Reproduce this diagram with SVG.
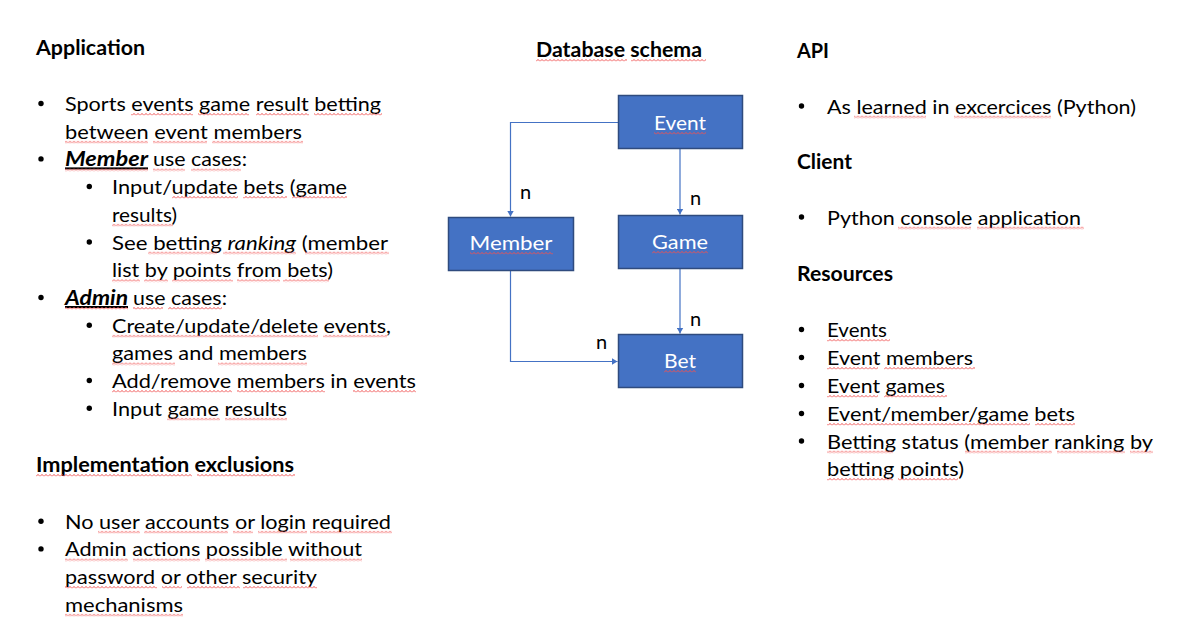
<svg xmlns="http://www.w3.org/2000/svg" width="1183" height="637" viewBox="0 0 1183 637">
<style>
text{font-family:Lato,"Liberation Sans",sans-serif;font-size:20px;fill:#000}
.h{font-weight:bold}
.bi{font-weight:bold;font-style:italic;text-decoration:underline}
.it{font-style:italic}
.lbl{fill:#fff;text-anchor:middle}
.box{fill:#4472C4;stroke:#2F4B7E;stroke-width:1.5}
.edge{fill:none;stroke:#4472C4;stroke-width:1.2}
.sq{fill:url(#sq)}
.dot{fill:#000}
</style>
<defs>
<pattern id="sq" width="4" height="3" patternUnits="userSpaceOnUse">
<path d="M0,2.4 L1,1.2 L2,0.6 L3,1.2 L4,2.4" fill="none" stroke="#F05050" stroke-width="0.85"/>
</pattern>
<marker id="arr" markerUnits="userSpaceOnUse" viewBox="0 0 6 7" refX="6" refY="3.5" markerWidth="6" markerHeight="7" orient="auto">
<path d="M0,0 L6,3.5 L0,7 z" fill="#4472C4"/>
</marker>
</defs>
<rect width="1183" height="637" fill="#fff"/>

<g id="text-left">
<text class="h" x="36" y="55" textLength="109" lengthAdjust="spacingAndGlyphs">Application</text>
<circle class="dot" cx="41" cy="103.5" r="2.7"/>
<text x="65" y="111" textLength="316" lengthAdjust="spacingAndGlyphs">Sports events game result betting</text>
<text x="65" y="138.7" textLength="237" lengthAdjust="spacingAndGlyphs">between event members</text>
<circle class="dot" cx="41" cy="158.9" r="2.7"/>
<text class="bi" x="65" y="166.4" textLength="83" lengthAdjust="spacingAndGlyphs">Member</text>
<text x="153" y="166.4" textLength="94" lengthAdjust="spacingAndGlyphs">use cases:</text>
<circle class="dot" cx="89.3" cy="186.5" r="2.7"/>
<text x="112" y="194" textLength="235" lengthAdjust="spacingAndGlyphs">Input/update bets (game</text>
<text x="112" y="221.7" textLength="65" lengthAdjust="spacingAndGlyphs">results)</text>
<circle class="dot" cx="89.3" cy="242" r="2.7"/>
<text x="112" y="249.5" textLength="276" lengthAdjust="spacingAndGlyphs">See betting <tspan class="it">ranking</tspan> (member</text>
<text x="112" y="277.2" textLength="221" lengthAdjust="spacingAndGlyphs">list by points from bets)</text>
<circle class="dot" cx="41" cy="297.5" r="2.7"/>
<text class="bi" x="65" y="305" textLength="63" lengthAdjust="spacingAndGlyphs">Admin</text>
<text x="133" y="305" textLength="94" lengthAdjust="spacingAndGlyphs">use cases:</text>
<circle class="dot" cx="89.3" cy="325.2" r="2.7"/>
<text x="112" y="332.7" textLength="279" lengthAdjust="spacingAndGlyphs">Create/update/delete events,</text>
<text x="112" y="360.4" textLength="195" lengthAdjust="spacingAndGlyphs">games and members</text>
<circle class="dot" cx="89.3" cy="380.5" r="2.7"/>
<text x="112" y="388" textLength="304" lengthAdjust="spacingAndGlyphs">Add/remove members in events</text>
<circle class="dot" cx="89.3" cy="408.2" r="2.7"/>
<text x="112" y="415.7" textLength="175" lengthAdjust="spacingAndGlyphs">Input game results</text>

<text class="h" x="36" y="472" textLength="258" lengthAdjust="spacingAndGlyphs">Implementation exclusions</text>
<circle class="dot" cx="41" cy="521.2" r="2.7"/>
<text x="65" y="528.7" textLength="326" lengthAdjust="spacingAndGlyphs">No user accounts or login required</text>
<circle class="dot" cx="41" cy="548.9" r="2.7"/>
<text x="65" y="556.4" textLength="297" lengthAdjust="spacingAndGlyphs">Admin actions possible without</text>
<text x="65" y="584" textLength="252" lengthAdjust="spacingAndGlyphs">password or other security</text>
<text x="65" y="611.7" textLength="118" lengthAdjust="spacingAndGlyphs">mechanisms</text>
</g>

<g id="text-right">
<text class="h" x="797" y="58" textLength="32" lengthAdjust="spacingAndGlyphs">API</text>
<circle class="dot" cx="801.5" cy="106" r="2.7"/>
<text x="827" y="113.5" textLength="309" lengthAdjust="spacingAndGlyphs">As learned in excercices (Python)</text>
<text class="h" x="797" y="168.5" textLength="55" lengthAdjust="spacingAndGlyphs">Client</text>
<circle class="dot" cx="801.5" cy="217" r="2.7"/>
<text x="827" y="224.5" textLength="254" lengthAdjust="spacingAndGlyphs">Python console application</text>
<text class="h" x="797" y="280.5" textLength="96" lengthAdjust="spacingAndGlyphs">Resources</text>
<circle class="dot" cx="801.5" cy="329.5" r="2.7"/>
<text x="827" y="337" textLength="60" lengthAdjust="spacingAndGlyphs">Events</text>
<circle class="dot" cx="801.5" cy="357.5" r="2.7"/>
<text x="827" y="365" textLength="146" lengthAdjust="spacingAndGlyphs">Event members</text>
<circle class="dot" cx="801.5" cy="385.5" r="2.7"/>
<text x="827" y="393" textLength="118" lengthAdjust="spacingAndGlyphs">Event games</text>
<circle class="dot" cx="801.5" cy="413.5" r="2.7"/>
<text x="827" y="421" textLength="248" lengthAdjust="spacingAndGlyphs">Event/member/game bets</text>
<circle class="dot" cx="801.5" cy="441" r="2.7"/>
<text x="827" y="448.5" textLength="326" lengthAdjust="spacingAndGlyphs">Betting status (member ranking by</text>
<text x="827" y="476" textLength="137" lengthAdjust="spacingAndGlyphs">betting points)</text>
</g>

<g id="schema-title">
<text class="h" x="536" y="57" textLength="166" lengthAdjust="spacingAndGlyphs">Database schema</text>
</g>

<g id="connectors">
<path class="edge" d="M618,122.5 H510.5 V216.5" marker-end="url(#arr)"/>
<path class="edge" d="M680,148.5 V214.5" marker-end="url(#arr)"/>
<path class="edge" d="M680,268.5 V333.5" marker-end="url(#arr)"/>
<path class="edge" d="M510.5,270.5 V361.5 H617.5" marker-end="url(#arr)"/>
<text x="520" y="199.3">n</text>
<text x="690" y="205">n</text>
<text x="690" y="326">n</text>
<text x="596" y="349">n</text>
</g>

<g id="node-event">
<rect class="box" x="618.5" y="95.5" width="124" height="53"/>
<text class="lbl" x="680" y="130" textLength="52" lengthAdjust="spacingAndGlyphs">Event</text>
</g>
<g id="node-member">
<rect class="box" x="448.5" y="217.5" width="125" height="53"/>
<text class="lbl" x="511" y="250" textLength="83" lengthAdjust="spacingAndGlyphs">Member</text>
</g>
<g id="node-game">
<rect class="box" x="618.5" y="215.5" width="124" height="53"/>
<text class="lbl" x="680" y="249" textLength="56" lengthAdjust="spacingAndGlyphs">Game</text>
</g>
<g id="node-bet">
<rect class="box" x="618.5" y="334.5" width="124" height="53"/>
<text class="lbl" x="680" y="368" textLength="32" lengthAdjust="spacingAndGlyphs">Bet</text>
</g>

<g id="spellcheck">
<g transform="translate(0,113)"><rect class="sq" x="131" width="62" height="3"/><rect class="sq" x="198" width="51" height="3"/><rect class="sq" x="256" width="53" height="3"/><rect class="sq" x="314" width="68" height="3"/></g>
<g transform="translate(0,140.7)"><rect class="sq" x="65" width="83" height="3"/><rect class="sq" x="153" width="54" height="3"/><rect class="sq" x="212" width="91" height="3"/></g>
<g transform="translate(0,168.4)"><rect class="sq" x="65" width="83" height="3"/><rect class="sq" x="153" width="32" height="3"/><rect class="sq" x="191" width="50" height="3"/></g>
<g transform="translate(0,196)"><rect class="sq" x="172" width="66" height="3"/><rect class="sq" x="243" width="44" height="3"/><rect class="sq" x="292" width="55" height="3"/></g>
<g transform="translate(0,223.7)"><rect class="sq" x="112" width="61" height="3"/></g>
<g transform="translate(0,251.5)"><rect class="sq" x="148" width="69" height="3"/><rect class="sq" x="223" width="73" height="3"/><rect class="sq" x="305" width="84" height="3"/></g>
<g transform="translate(0,279.2)"><rect class="sq" x="112" width="28" height="3"/><rect class="sq" x="144" width="24" height="3"/><rect class="sq" x="172" width="61" height="3"/><rect class="sq" x="237" width="43" height="3"/><rect class="sq" x="283" width="46" height="3"/></g>
<g transform="translate(0,307)"><rect class="sq" x="65" width="63" height="3"/><rect class="sq" x="133" width="30" height="3"/><rect class="sq" x="168" width="54" height="3"/></g>
<g transform="translate(0,334.7)"><rect class="sq" x="112" width="206" height="3"/><rect class="sq" x="323" width="64" height="3"/></g>
<g transform="translate(0,362.4)"><rect class="sq" x="112" width="63" height="3"/><rect class="sq" x="218" width="89" height="3"/></g>
<g transform="translate(0,390)"><rect class="sq" x="112" width="120" height="3"/><rect class="sq" x="237" width="88" height="3"/><rect class="sq" x="353" width="63" height="3"/></g>
<g transform="translate(0,417.7)"><rect class="sq" x="167" width="53" height="3"/><rect class="sq" x="225" width="62" height="3"/></g>
<g transform="translate(0,474)"><rect class="sq" x="36" width="156" height="3"/><rect class="sq" x="197" width="98" height="3"/></g>
<g transform="translate(0,530.7)"><rect class="sq" x="98" width="42" height="3"/><rect class="sq" x="144" width="84" height="3"/><rect class="sq" x="233" width="20" height="3"/><rect class="sq" x="258" width="49" height="3"/><rect class="sq" x="310" width="82" height="3"/></g>
<g transform="translate(0,558.4)"><rect class="sq" x="65" width="63" height="3"/><rect class="sq" x="133" width="67" height="3"/><rect class="sq" x="205" width="82" height="3"/><rect class="sq" x="290" width="72" height="3"/></g>
<g transform="translate(0,586)"><rect class="sq" x="65" width="92" height="3"/><rect class="sq" x="162" width="20" height="3"/><rect class="sq" x="187" width="53" height="3"/><rect class="sq" x="243" width="74" height="3"/></g>
<g transform="translate(0,613.7)"><rect class="sq" x="65" width="118" height="3"/></g>
<g transform="translate(0,59)"><rect class="sq" x="536" width="91" height="3"/><rect class="sq" x="631" width="75" height="3"/></g>
<g transform="translate(0,132)"><rect class="sq" x="654" width="52" height="3"/></g>
<g transform="translate(0,252)"><rect class="sq" x="470" width="83" height="3"/></g>
<g transform="translate(0,251)"><rect class="sq" x="652" width="56" height="3"/></g>
<g transform="translate(0,370)"><rect class="sq" x="664" width="32" height="3"/></g>
<g transform="translate(0,115.5)"><rect class="sq" x="854" width="72" height="3"/><rect class="sq" x="954" width="97" height="3"/></g>
<g transform="translate(0,226.5)"><rect class="sq" x="898" width="73" height="3"/><rect class="sq" x="977" width="107" height="3"/></g>
<g transform="translate(0,339)"><rect class="sq" x="827" width="63" height="3"/></g>
<g transform="translate(0,367)"><rect class="sq" x="827" width="51" height="3"/><rect class="sq" x="884" width="91" height="3"/></g>
<g transform="translate(0,395)"><rect class="sq" x="827" width="51" height="3"/><rect class="sq" x="884" width="63" height="3"/></g>
<g transform="translate(0,423)"><rect class="sq" x="827" width="203" height="3"/><rect class="sq" x="1035" width="40" height="3"/></g>
<g transform="translate(0,450.5)"><rect class="sq" x="827" width="66" height="3"/><rect class="sq" x="965" width="87" height="3"/><rect class="sq" x="1057" width="68" height="3"/><rect class="sq" x="1130" width="23" height="3"/></g>
<g transform="translate(0,478)"><rect class="sq" x="827" width="66" height="3"/><rect class="sq" x="898" width="60" height="3"/></g>
</g>
</svg>
